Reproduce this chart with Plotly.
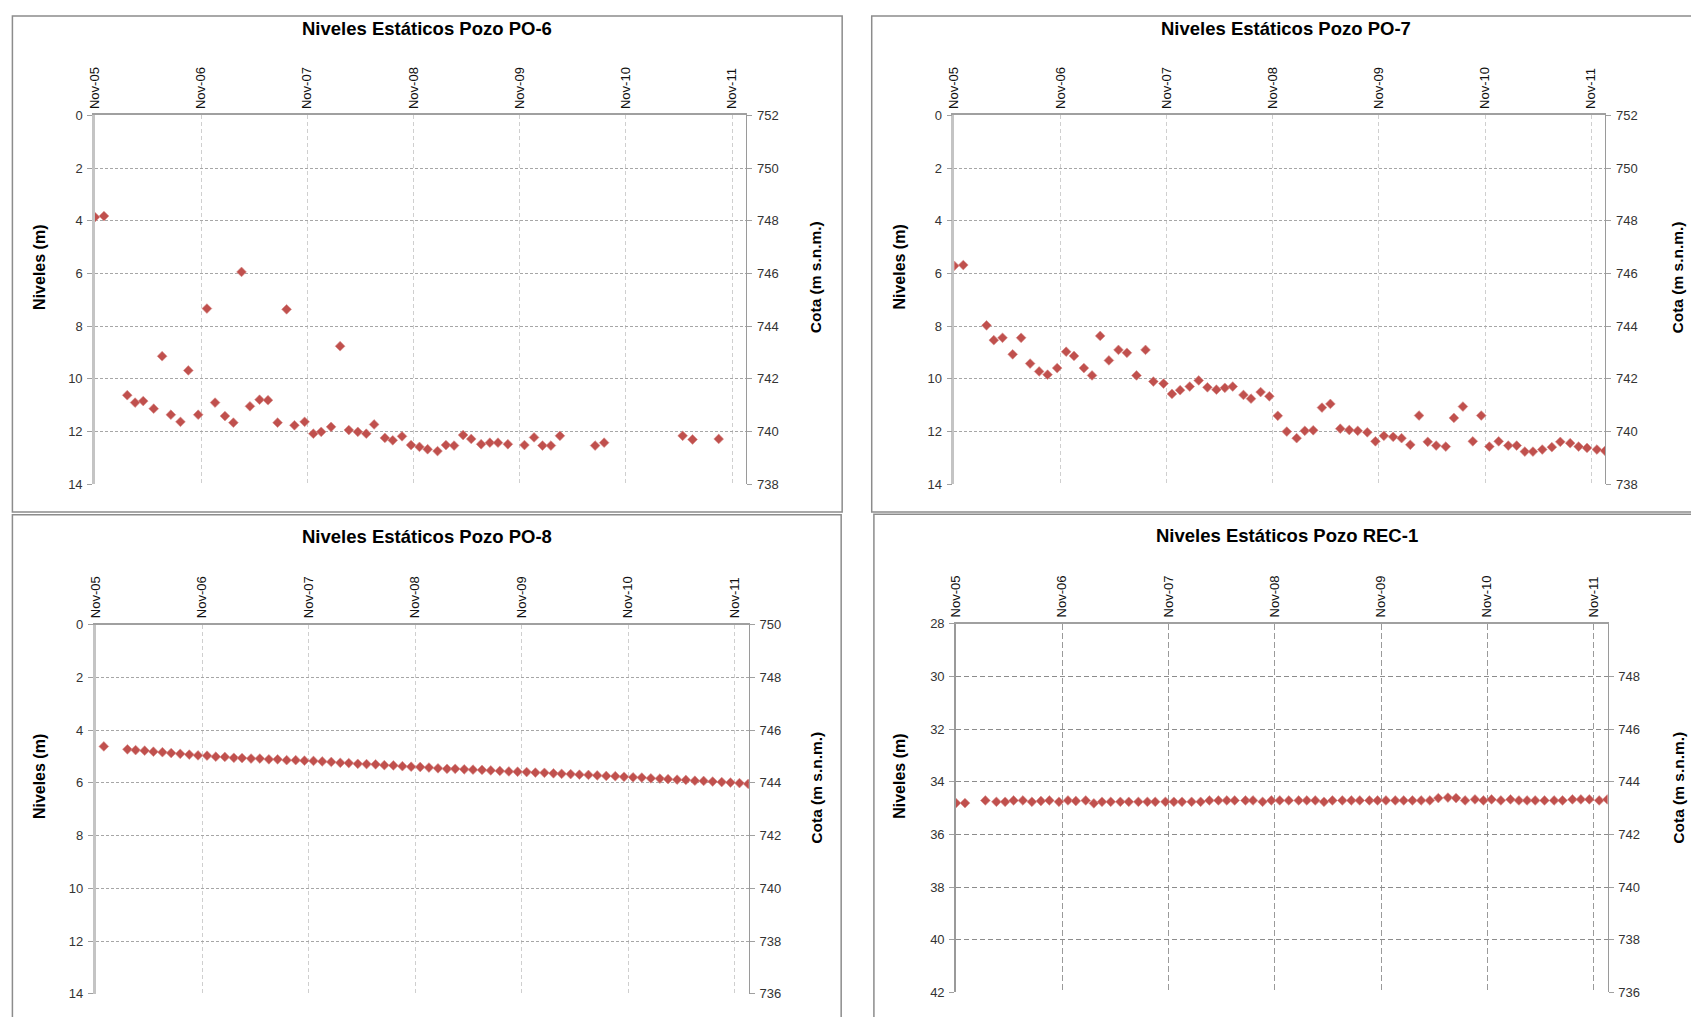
import plotly.graph_objects as go

# ---------------- data ----------------
fechas_po6 = [
    "2005-11-01", "2005-12-02", "2006-02-20", "2006-03-19", "2006-04-16", "2006-05-22", "2006-06-20", "2006-07-20", "2006-08-22", "2006-09-18",
    "2006-10-22", "2006-11-21", "2006-12-19", "2007-01-22", "2007-02-20", "2007-03-20", "2007-04-18", "2007-05-21", "2007-06-19", "2007-07-22",
    "2007-08-22", "2007-09-18", "2007-10-23", "2007-11-22", "2007-12-19", "2008-01-22", "2008-02-22", "2008-03-23", "2008-04-23", "2008-05-22",
    "2008-06-18", "2008-07-25", "2008-08-21", "2008-09-22", "2008-10-23", "2008-11-21", "2008-12-19", "2009-01-22", "2009-02-20", "2009-03-20",
    "2009-04-20", "2009-05-18", "2009-06-21", "2009-07-21", "2009-08-18", "2009-09-21", "2009-11-17", "2009-12-20", "2010-01-18", "2010-02-16",
    "2010-03-19", "2010-07-18", "2010-08-18", "2011-05-15", "2011-06-18", "2011-09-16",
]
niveles_po6 = [
    3.86, 3.82, 10.62, 10.90, 10.84, 11.13, 9.14, 11.36, 11.63, 9.68,
    11.36, 7.33, 10.90, 11.41, 11.66, 5.94, 11.04, 10.79, 10.81, 11.66,
    7.36, 11.76, 11.63, 12.08, 12.01, 11.82, 8.76, 11.94, 12.01, 12.08,
    11.73, 12.24, 12.33, 12.18, 12.51, 12.58, 12.67, 12.74, 12.51, 12.53,
    12.13, 12.28, 12.48, 12.42, 12.42, 12.48, 12.51, 12.22, 12.53, 12.53,
    12.16, 12.53, 12.42, 12.16, 12.30, 12.28,
]

fechas_po7 = [
    "2005-11-01", "2005-12-02", "2006-02-20", "2006-03-17", "2006-04-16", "2006-05-21", "2006-06-19", "2006-07-20", "2006-08-20", "2006-09-18",
    "2006-10-21", "2006-11-21", "2006-12-18", "2007-01-21", "2007-02-18", "2007-03-18", "2007-04-17", "2007-05-20", "2007-06-18", "2007-07-21",
    "2007-08-21", "2007-09-17", "2007-10-22", "2007-11-20", "2007-12-18", "2008-01-20", "2008-02-20", "2008-03-21", "2008-04-21", "2008-05-20",
    "2008-06-16", "2008-07-23", "2008-08-18", "2008-09-20", "2008-10-20", "2008-11-18", "2008-12-19", "2009-01-22", "2009-02-19", "2009-03-20",
    "2009-04-19", "2009-05-18", "2009-06-21", "2009-07-22", "2009-08-20", "2009-09-22", "2009-10-20", "2009-11-18", "2009-12-20", "2010-01-18",
    "2010-02-17", "2010-03-19", "2010-04-18", "2010-05-17", "2010-06-19", "2010-07-17", "2010-08-17", "2010-09-20", "2010-10-19", "2010-11-16",
    "2010-12-18", "2011-01-20", "2011-02-18", "2011-03-18", "2011-04-15", "2011-05-17", "2011-06-19", "2011-07-18", "2011-08-21", "2011-09-19",
    "2011-10-18", "2011-11-21", "2011-12-19",
]
niveles_po7 = [
    5.71, 5.68, 7.97, 8.53, 8.44, 9.07, 8.44, 9.42, 9.72, 9.84,
    9.59, 8.97, 9.13, 9.59, 9.87, 8.37, 9.30, 8.90, 9.01, 9.87,
    8.90, 10.10, 10.18, 10.57, 10.43, 10.29, 10.06, 10.32, 10.41, 10.34,
    10.29, 10.61, 10.75, 10.50, 10.66, 11.40, 12.00, 12.25, 11.97, 11.95,
    11.09, 10.95, 11.89, 11.94, 11.97, 12.03, 12.37, 12.16, 12.20, 12.25,
    12.50, 11.39, 12.39, 12.53, 12.57, 11.48, 11.05, 12.37, 11.39, 12.57,
    12.37, 12.53, 12.53, 12.76, 12.76, 12.68, 12.59, 12.39, 12.44, 12.57,
    12.62, 12.68, 12.73,
]

fechas_po8 = [
    "2005-11-29", "2006-02-18", "2006-03-18", "2006-04-18", "2006-05-18", "2006-06-18", "2006-07-18", "2006-08-18", "2006-09-18", "2006-10-18",
    "2006-11-18", "2006-12-18", "2007-01-18", "2007-02-18", "2007-03-18", "2007-04-18", "2007-05-18", "2007-06-18", "2007-07-18", "2007-08-18",
    "2007-09-18", "2007-10-18", "2007-11-18", "2007-12-18", "2008-01-18", "2008-02-18", "2008-03-18", "2008-04-18", "2008-05-18", "2008-06-18",
    "2008-07-18", "2008-08-18", "2008-09-18", "2008-10-18", "2008-11-18", "2008-12-18", "2009-01-18", "2009-02-18", "2009-03-18", "2009-04-18",
    "2009-05-18", "2009-06-18", "2009-07-18", "2009-08-18", "2009-09-18", "2009-10-18", "2009-11-18", "2009-12-18", "2010-01-18", "2010-02-18",
    "2010-03-18", "2010-04-18", "2010-05-18", "2010-06-18", "2010-07-18", "2010-08-18", "2010-09-18", "2010-10-18", "2010-11-18", "2010-12-18",
    "2011-01-18", "2011-02-18", "2011-03-18", "2011-04-18", "2011-05-18", "2011-06-18", "2011-07-18", "2011-08-18", "2011-09-18", "2011-10-18",
    "2011-11-18", "2011-12-18",
]
niveles_po8 = [
    4.62, 4.73, 4.76, 4.78, 4.82, 4.84, 4.87, 4.90, 4.93, 4.96,
    4.97, 5.01, 5.02, 5.05, 5.06, 5.08, 5.08, 5.11, 5.11, 5.14,
    5.14, 5.16, 5.17, 5.19, 5.21, 5.24, 5.25, 5.28, 5.29, 5.30,
    5.33, 5.34, 5.37, 5.39, 5.40, 5.42, 5.45, 5.47, 5.47, 5.49,
    5.50, 5.51, 5.53, 5.55, 5.57, 5.58, 5.59, 5.61, 5.62, 5.64,
    5.66, 5.67, 5.69, 5.70, 5.72, 5.74, 5.75, 5.77, 5.79, 5.80,
    5.83, 5.84, 5.86, 5.88, 5.89, 5.92, 5.93, 5.95, 5.97, 5.99,
    6.01, 6.04,
]

fechas_rec1 = [
    "2005-11-01", "2005-12-02", "2006-02-10", "2006-03-20", "2006-04-19", "2006-05-18", "2006-06-19", "2006-07-20", "2006-08-20", "2006-09-18",
    "2006-10-21", "2006-11-21", "2006-12-18", "2007-01-21", "2007-02-18", "2007-03-18", "2007-04-17", "2007-05-20", "2007-06-18", "2007-07-21",
    "2007-08-21", "2007-09-17", "2007-10-22", "2007-11-20", "2007-12-18", "2008-01-20", "2008-02-20", "2008-03-21", "2008-04-21", "2008-05-20",
    "2008-06-16", "2008-07-23", "2008-08-18", "2008-09-20", "2008-10-20", "2008-11-18", "2008-12-19", "2009-01-22", "2009-02-19", "2009-03-20",
    "2009-04-19", "2009-05-18", "2009-06-21", "2009-07-22", "2009-08-20", "2009-09-22", "2009-10-20", "2009-11-18", "2009-12-20", "2010-01-18",
    "2010-02-17", "2010-03-19", "2010-04-18", "2010-05-17", "2010-06-19", "2010-07-17", "2010-08-17", "2010-09-20", "2010-10-19", "2010-11-16",
    "2010-12-18", "2011-01-20", "2011-02-18", "2011-03-18", "2011-04-15", "2011-05-17", "2011-06-19", "2011-07-18", "2011-08-21", "2011-09-19",
    "2011-10-18", "2011-11-21", "2011-12-19",
]
niveles_rec1 = [
    34.81, 34.81, 34.71, 34.76, 34.76, 34.71, 34.71, 34.76, 34.73, 34.71,
    34.76, 34.71, 34.73, 34.71, 34.82, 34.76, 34.76, 34.76, 34.76, 34.76,
    34.76, 34.76, 34.76, 34.76, 34.76, 34.76, 34.76, 34.71, 34.71, 34.71,
    34.71, 34.71, 34.71, 34.76, 34.71, 34.71, 34.71, 34.71, 34.71, 34.71,
    34.76, 34.71, 34.71, 34.71, 34.71, 34.71, 34.71, 34.71, 34.71, 34.71,
    34.71, 34.71, 34.71, 34.62, 34.60, 34.62, 34.71, 34.67, 34.71, 34.67,
    34.71, 34.67, 34.71, 34.71, 34.71, 34.71, 34.71, 34.71, 34.67, 34.67,
    34.67, 34.71, 34.67,
]

ticks_niveles = [0, 2, 4, 6, 8, 10, 12, 14]
ticks_niveles_rec1 = [28, 30, 32, 34, 36, 38, 40, 42]
ticks_cota_752 = [738, 740, 742, 744, 746, 748, 750, 752]
ticks_cota_750 = [736, 738, 740, 742, 744, 746, 748, 750]
ticks_cota_rec1 = [736, 738, 740, 742, 744, 746, 748]
ticks_fecha = ["2005-11-01", "2006-11-01", "2007-11-01", "2008-11-01", "2009-11-01", "2010-11-01", "2011-11-01"]
rango_fecha = ["2005-11-01", "2011-12-20"]

# positions below are page pixels (1699x1017 screenshot); the figure shows up
# offset/scaled a bit on the page, so px/py correct for that
FW, FH = 1691, 1018
OFFX, SX = 13.4, 0.997
OFFY, SY = 15.45, 0.9837
ROJO = "#C0504D"
FUENTE = "Liberation Sans, Arial, sans-serif"


def px(x):
    return (x - OFFX) / SX / FW


def py(y):
    return 1 - (y - OFFY) / SY / FH


def nombre(prefijo, n):
    return prefijo + ("" if n == 1 else str(n))


def add_panel(fig, n, titulo, fechas, niveles, rango_izq, ticks_izq, rango_der, ticks_der,
              caja_plot, caja_panel, pos_titulos, rec=False):
    """Un panel: niveles (eje izq. invertido) + cota (eje der.)"""
    xid, ylid, yrid = nombre("x", n), nombre("y", 2 * n - 1), nombre("y", 2 * n)
    ref = rango_der[1] + rango_izq[1]

    fig.add_trace(go.Scatter(x=fechas, y=niveles, mode="markers", xaxis=xid, yaxis=ylid,
                             marker=dict(symbol="diamond", size=7.5, color=ROJO,
                                         line=dict(width=0.6, color="#d68a88")),
                             showlegend=False))
    fig.add_trace(go.Scatter(x=fechas, y=[ref - v for v in niveles], mode="markers",
                             xaxis=xid, yaxis=yrid, marker=dict(opacity=0),
                             hoverinfo="skip", showlegend=False))

    x0, y0, x1, y1 = caja_plot
    tick_font = dict(family=FUENTE, size=13, color="#333333")
    grid_h = dict(gridcolor="#8c8c8c", griddash="5px,3px") if rec else dict(gridcolor="#a6a6a6", griddash="3px,2px")
    grid_v = dict(gridcolor="#9a9a9a", griddash="6px,3px") if rec else dict(gridcolor="#cfcfcf", griddash="4px,3px")

    fig.layout[nombre("xaxis", n)] = dict(
        domain=[px(x0), px(x1)], anchor=ylid, side="top", type="date",
        range=rango_fecha, tickvals=ticks_fecha, tickformat="%b-%y", tickangle=-90,
        tickfont=dict(family=FUENTE, size=13, color="#111111"), ticklabelstandoff=2,
        showgrid=True, gridwidth=1, showline=True, linecolor="#a0a0a0", linewidth=1.5,
        ticks="", zeroline=False, **grid_v)
    fig.layout[nombre("yaxis", 2 * n - 1)] = dict(
        domain=[py(y1), py(y0)], anchor=xid, range=rango_izq, tickvals=ticks_izq,
        tickfont=tick_font, showgrid=True, gridwidth=1, showline=True,
        linecolor="#9a9a9a" if rec else "#c4c4c4", linewidth=1.5 if rec else 2.5,
        ticks="outside", ticklen=5, tickcolor="#a0a0a0", ticklabelstandoff=2,
        zeroline=False, **grid_h)
    fig.layout[nombre("yaxis", 2 * n)] = dict(
        overlaying=ylid, anchor=xid, side="right", range=rango_der, tickvals=ticks_der,
        tickfont=tick_font, showgrid=False, showline=True, linecolor="#9a9a9a",
        linewidth=1.2, ticks="outside", ticklen=5, tickcolor="#a0a0a0",
        ticklabelstandoff=2, zeroline=False)

    bx0, by0, bx1, by1 = caja_panel
    fig.add_shape(type="rect", xref="paper", yref="paper", x0=px(bx0), x1=px(bx1),
                  y0=py(by1), y1=min(py(by0), 1 - 1 / FH), line=dict(color="#8c8c8c", width=1.5),
                  fillcolor="rgba(0,0,0,0)", layer="below")

    (tx, ty), (nx, ny), (cx, cy) = pos_titulos
    fig.add_annotation(x=px(tx), y=py(ty), xref="paper", yref="paper", showarrow=False,
                       text=f"<b>{titulo}</b>", xanchor="center", yanchor="middle",
                       font=dict(family=FUENTE, size=18.5, color="#000000"))
    fig.add_annotation(x=px(nx), y=py(ny), xref="paper", yref="paper", showarrow=False,
                       text="<b>Niveles (m)</b>", textangle=-90, xanchor="center", yanchor="middle",
                       font=dict(family=FUENTE, size=16, color="#000000"))
    fig.add_annotation(x=px(cx), y=py(cy), xref="paper", yref="paper", showarrow=False,
                       text="<b>Cota (m s.n.m.)</b>", textangle=-90, xanchor="center", yanchor="middle",
                       font=dict(family=FUENTE, size=15.5, color="#000000"))


fig = go.Figure()

add_panel(fig, 1, "Niveles Estáticos Pozo PO-6", fechas_po6, niveles_po6,
          [14, 0], ticks_niveles, [738, 752], ticks_cota_752,
          (92.5, 115.7, 745, 484), (9.8, 5, 841, 511.7),
          [(425, 29.3), (36.8, 267.6), (815, 277)])
add_panel(fig, 2, "Niveles Estáticos Pozo PO-7", fechas_po7, niveles_po7,
          [14, 0], ticks_niveles, [738, 752], ticks_cota_752,
          (953.3, 115.6, 1605.5, 484), (870.6, 5, 1710, 511.7),
          [(1286, 29.3), (898, 267.6), (1677.4, 277.4)])
add_panel(fig, 3, "Niveles Estáticos Pozo PO-8", fechas_po8, niveles_po8,
          [14, 0], ticks_niveles, [736, 750], ticks_cota_750,
          (93.2, 624, 747.5, 992.8), (9.8, 514.5, 840, 1040),
          [(425, 536.4), (36.8, 776), (815, 786.7)])
add_panel(fig, 4, "Niveles Estáticos Pozo REC-1", fechas_rec1, niveles_rec1,
          [42, 28], ticks_niveles_rec1, [736, 750], ticks_cota_rec1,
          (955, 623.3, 1607.8, 991.3), (872.8, 514, 1710, 1040),
          [(1287, 535.5), (899, 776), (1678.5, 786.7)], rec=True)

fig.update_layout(
    width=FW, height=FH, margin=dict(l=0, r=0, t=0, b=0),
    paper_bgcolor="white", plot_bgcolor="white", showlegend=False,
    font=dict(family=FUENTE),
)

fig.write_html("out.html")
